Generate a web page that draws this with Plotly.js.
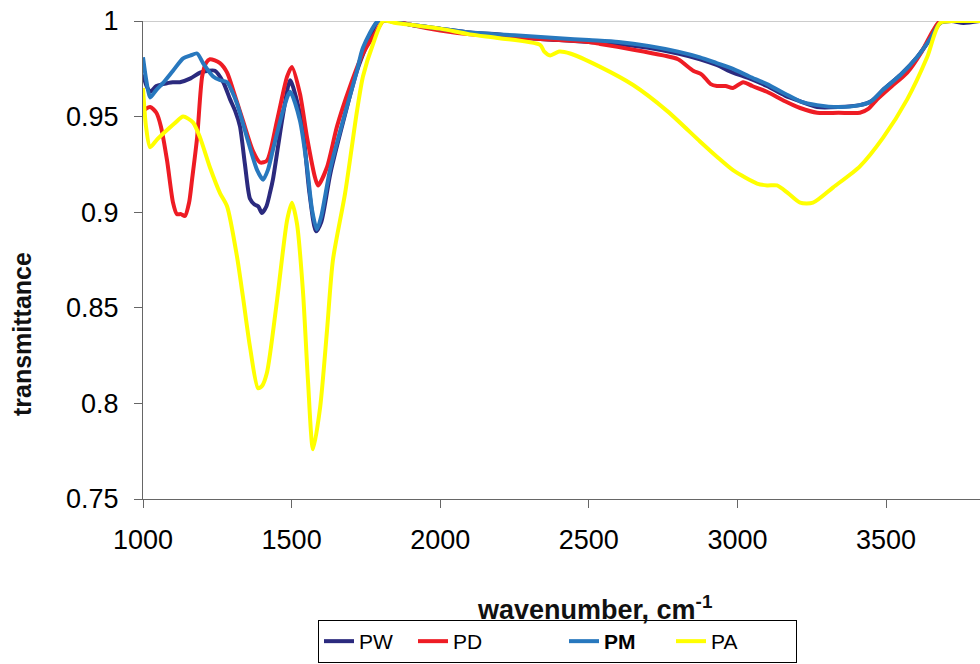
<!DOCTYPE html>
<html>
<head>
<meta charset="utf-8">
<script src="https://cdn.plot.ly/plotly-3.0.1.min.js"></script>
<style>html,body{margin:0;padding:0;background:#fff;}#chart{width:980px;height:664px;}</style>
</head>
<body>
<div id="chart"></div>
<script>
// ---- data ----
const seriesNames = ["PW", "PD", "<b>PM</b>", "PA"];
const xTickValues = [1000, 1500, 2000, 2500, 3000, 3500];
const yTickValues = [0.75, 0.8, 0.85, 0.9, 0.95, 1];
const yTickLabels = ["0.75", "0.8", "0.85", "0.9", "0.95", "1"];

const pwWavenumber = [1000,1012,1024,1045,1067,1100,1124,1160,1192,1220,1242,1270,1293,1310,1326,1343,1360,1375,1388,1400,1415,1427,1437,1455,1470,1495,1515,1538,1560,1582,1600,1630,1673,1720,1760,1791,1830,1900,2000,2100,2200,2300,2400,2500,2600,2700,2800,2874,2930,2985,3040,3099,3160,3211,3268,3340,3412,3450,3490,3550,3604,3650,3682,3720,3760,3816];
const pwValues = [0.972,0.966,0.963,0.966,0.967,0.968,0.968,0.970,0.973,0.974,0.974,0.968,0.959,0.953,0.945,0.925,0.907,0.904,0.903,0.8996,0.903,0.910,0.917,0.935,0.950,0.969,0.960,0.943,0.910,0.890,0.895,0.920,0.947,0.974,0.990,1.0,1.0,0.998,0.996,0.994,0.993,0.991,0.990,0.989,0.988,0.986,0.983,0.980,0.977,0.973,0.970,0.966,0.961,0.958,0.955,0.955,0.956,0.958,0.964,0.972,0.981,0.991,0.999,1.0,0.999,1.0];

const pdWavenumber = [1000,1024,1045,1060,1081,1101,1114,1128,1141,1155,1165,1182,1199,1212,1225,1259,1283,1303,1336,1370,1394,1417,1451,1485,1501,1528,1552,1579,1589,1619,1653,1696,1740,1787,1808,1850,1900,2000,2100,2200,2300,2400,2500,2538,2650,2750,2800,2851,2880,2910,2931,2960,2985,3019,3050,3099,3160,3211,3268,3340,3412,3440,3470,3520,3571,3620,3658,3682,3740,3816];
const pdValues = [0.953,0.955,0.952,0.945,0.927,0.905,0.899,0.899,0.898,0.905,0.917,0.939,0.971,0.978,0.980,0.978,0.973,0.964,0.948,0.932,0.926,0.927,0.948,0.971,0.976,0.962,0.939,0.918,0.914,0.9235,0.945,0.9655,0.983,0.995,1.0,1.0,0.998,0.995,0.993,0.992,0.991,0.990,0.989,0.988,0.985,0.982,0.980,0.974,0.972,0.967,0.966,0.966,0.965,0.968,0.966,0.963,0.958,0.9545,0.952,0.952,0.952,0.954,0.959,0.966,0.973,0.984,0.995,1.0,1.0,1.0];

const pmWavenumber = [1000,1012,1024,1045,1067,1101,1135,1160,1182,1202,1236,1260,1283,1300,1316,1350,1384,1404,1420,1437,1471,1495,1528,1552,1569,1585,1600,1629,1673,1720,1740,1791,1830,1900,2000,2100,2200,2300,2400,2500,2600,2700,2800,2874,2930,2985,3040,3099,3160,3211,3268,3340,3412,3450,3490,3550,3604,3650,3682,3720,3760,3816];
const pmValues = [0.981,0.968,0.960,0.964,0.9675,0.974,0.9805,0.982,0.983,0.978,0.971,0.969,0.968,0.963,0.957,0.939,0.922,0.917,0.922,0.9325,0.953,0.963,0.948,0.9235,0.901,0.891,0.898,0.922,0.948,0.974,0.986,1.0,1.0,0.998,0.996,0.994,0.993,0.992,0.991,0.990,0.989,0.987,0.984,0.981,0.978,0.975,0.971,0.967,0.962,0.958,0.956,0.955,0.956,0.958,0.964,0.972,0.981,0.991,0.999,1.0,1.0,1.0];

const paWavenumber = [1000,1010,1024,1047,1081,1110,1135,1168,1192,1225,1259,1283,1316,1336,1360,1387,1400,1417,1451,1485,1501,1518,1538,1555,1572,1596,1619,1639,1680,1720,1740,1774,1808,1850,1900,2000,2100,2200,2336,2350,2370,2400,2437,2538,2649,2763,2874,2931,2985,3066,3100,3133,3170,3211,3254,3322,3412,3490,3571,3638,3682,3750,3816];
const paValues = [0.965,0.945,0.934,0.938,0.943,0.947,0.950,0.947,0.939,0.9235,0.910,0.903,0.877,0.856,0.8295,0.808,0.809,0.816,0.854,0.896,0.905,0.894,0.859,0.812,0.776,0.798,0.838,0.875,0.910,0.953,0.971,0.988,1.0,0.999,0.998,0.996,0.993,0.991,0.9875,0.984,0.982,0.984,0.983,0.976,0.9665,0.953,0.937,0.929,0.922,0.915,0.914,0.914,0.910,0.905,0.905,0.913,0.924,0.939,0.959,0.981,0.999,1.0,1.0];

// ---- styling ----
const xs = [pwWavenumber, pdWavenumber, pmWavenumber, paWavenumber];
const ys = [pwValues, pdValues, pmValues, paValues];
const colors = ["#2B2A7E", "#EE1C24", "#2878BE", "#FFFF00"];
const legendWidths = [49, 106, 62, 80];

const traces = seriesNames.map((n, i) => ({
  type: "scatter", mode: "lines", name: n,
  x: xs[i], y: ys[i],
  line: {color: colors[i], width: 4, shape: "spline", smoothing: 0.7},
  legendwidth: legendWidths[i]
}));

const FONT = "Liberation Sans, Arial, sans-serif";
const layout = {
  width: 980, height: 664,
  margin: {l: 143, r: 0, t: 21, b: 165},
  paper_bgcolor: "#fff", plot_bgcolor: "#fff",
  font: {family: FONT, color: "#000"},
  showlegend: true,
  xaxis: {
    range: [1000, 3816], tickvals: xTickValues,
    showgrid: false, zeroline: false,
    showline: true, linecolor: "#666", linewidth: 1,
    ticks: "outside", ticklen: 8, tickcolor: "#666",
    tickfont: {size: 27, family: FONT, color: "#000"},
    ticklabelstandoff: 9
  },
  yaxis: {
    range: [0.75, 1], tickvals: yTickValues, ticktext: yTickLabels,
    showgrid: false, zeroline: false,
    showline: true, linecolor: "#666", linewidth: 1,
    ticks: "outside", ticklen: 8, tickcolor: "#666",
    tickfont: {size: 27, family: FONT, color: "#000"},
    ticklabelstandoff: 10
  },
  shapes: [{type: "line", xref: "paper", x0: 0, x1: 1, yref: "y", y0: 1, y1: 1,
            line: {color: "#9a9a9a", width: 1}, layer: "below"}],
  annotations: [
    {text: "wavenumber, cm<sup>-1</sup>", xref: "paper", yref: "paper",
     x: 0.539, y: -0.228, xanchor: "center", yanchor: "middle", showarrow: false,
     font: {size: 27, family: FONT, weight: "bold", color: "#111"}},
    {text: "transmittance", xref: "paper", yref: "paper", textangle: -90,
     x: -0.1446, y: 0.345, xanchor: "center", yanchor: "middle", showarrow: false,
     font: {size: 25, family: FONT, weight: "bold", color: "#111"}}
  ],
  legend: {
    orientation: "h", xref: "container", yref: "container",
    x: 318/980, y: 1/664, xanchor: "left", yanchor: "bottom",
    bordercolor: "#000", borderwidth: 1, bgcolor: "rgba(255,255,255,0)",
    font: {size: 21, family: FONT, color: "#000"},
    traceorder: "normal", itemclick: false
  }
};

Plotly.newPlot("chart", traces, layout, {displayModeBar: false, staticPlot: true});
</script>
</body>
</html>
